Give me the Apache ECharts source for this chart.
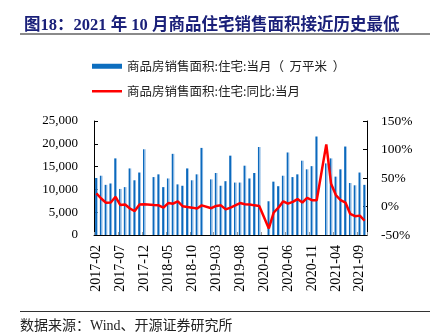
<!DOCTYPE html>
<html>
<head>
<meta charset="utf-8">
<script src="https://cdn.jsdelivr.net/npm/echarts@6/dist/echarts.min.js"></script>
<style>
html,body{margin:0;padding:0;background:#fff;}
#c{width:436px;height:336px;}
</style>
</head>
<body>
<div id="c"></div>
<script>
const categories = [
 '2017-02','2017-03','2017-04','2017-05','2017-06','2017-07','2017-08','2017-09','2017-10','2017-11','2017-12',
 '2018-01','2018-02','2018-03','2018-04','2018-05','2018-06','2018-07','2018-08','2018-09','2018-10','2018-11','2018-12',
 '2019-01','2019-02','2019-03','2019-04','2019-05','2019-06','2019-07','2019-08','2019-09','2019-10','2019-11','2019-12',
 '2020-01','2020-02','2020-03','2020-04','2020-05','2020-06','2020-07','2020-08','2020-09','2020-10','2020-11','2020-12',
 '2021-01','2021-02','2021-03','2021-04','2021-05','2021-06','2021-07','2021-08','2021-09','2021-10'
];
const salesArea = [
 12500,13000,11000,11300,16800,10100,10500,14600,12000,13700,18800,
 null,12700,13300,10500,12400,17800,11100,10800,14600,12000,13300,19100,
 null,12200,13600,10800,11800,17400,11500,11500,15200,12400,13600,19300,
 null,7400,11700,10700,13000,18100,12700,13300,16300,14400,15100,21600,
 null,15700,16800,12800,14400,19400,11400,10900,13700,11000
];
const salesYoY = [
 23,14,6.5,7,17,2.5,3.5,-3.5,-8,3.5,4,
 null,2.5,2,-2,6,5,9,0.6,-1,-2,-3.5,2,
 null,-3,1,2,-5,-2,2,6,4,3.5,2,1,
 null,-38.5,-11,-2,9,5,8,13,7,15,11,11,
 null,109,40,20,11,7,-13,-17,-16,-25
];
const leftTicks = {min:0, max:25000, interval:5000};
const rightTicks = {min:-50, max:150, interval:50};
const seriesNames = ['商品房销售面积:住宅:当月（  万平米  ）','商品房销售面积:住宅:同比:当月'];

const serif = "'Liberation Serif','Times New Roman','Noto Sans CJK SC',serif";
const legendText = {fontSize:12.5, color:'#222', fontFamily:"'Noto Sans CJK SC',sans-serif"};
const chart = echarts.init(document.getElementById('c'), null, {renderer:'canvas'});
chart.setOption({
  animation:false,
  backgroundColor:'#fff',
  title:{
    text:'图18：2021 年 10 月商品住宅销售面积接近历史最低',
    left:19, top:12,
    textStyle:{fontSize:16.5, fontWeight:'bold', color:'#1a2079', fontFamily:serif}
  },
  graphic:[
    {type:'line', shape:{x1:20,y1:34,x2:430,y2:34}, style:{stroke:'#8a8a8a', lineWidth:2}},
    {type:'line', shape:{x1:20,y1:311.5,x2:430,y2:311.5}, style:{stroke:'#333', lineWidth:1.2}},
    {type:'text', left:20, top:319, style:{text:'数据来源：Wind、开源证券研究所', fill:'#222', font:"14px "+serif}}
  ],
  legend:[
    {orient:'vertical', left:92, top:60, padding:0,
     itemWidth:30, itemHeight:5, textStyle:legendText,
     data:[{name:seriesNames[0], icon:'rect', itemStyle:{color:'#0d6ebf'}}]},
    {orient:'vertical', left:92, top:85, padding:0,
     itemWidth:30, itemHeight:2.5, textStyle:legendText,
     data:[{name:seriesNames[1], icon:'rect', itemStyle:{color:'#ff0000'}}]}
  ],
  grid:{left:94, right:69, top:121, bottom:101},
  xAxis:{
    type:'category', data:categories, boundaryGap:true,
    axisLine:{lineStyle:{color:'#000', width:1}},
    axisTick:{show:true, inside:true, interval:4, length:3, lineStyle:{color:'#999'}},
    axisLabel:{interval:4, rotate:90, margin:10, fontSize:14, color:'#000', fontFamily:serif}
  },
  yAxis:[
    {type:'value', min:leftTicks.min, max:leftTicks.max, interval:leftTicks.interval,
     splitLine:{show:false},
     axisLine:{show:true, lineStyle:{color:'#000'}},
     axisTick:{show:true, inside:true, length:4, lineStyle:{color:'#000'}},
     axisLabel:{margin:16, fontSize:13, color:'#000', fontFamily:serif,
       formatter:v=>v.toLocaleString('en-US')}},
    {type:'value', min:rightTicks.min, max:rightTicks.max, interval:rightTicks.interval,
     splitLine:{show:false},
     axisLine:{show:true, lineStyle:{color:'#000'}},
     axisTick:{show:true, inside:true, length:4, lineStyle:{color:'#000'}},
     axisLabel:{margin:14, fontSize:13.5, color:'#000', fontFamily:serif, formatter:'{value}%'}}
  ],
  series:[
    {name:seriesNames[0], type:'bar', yAxisIndex:0, data:salesArea, barWidth:2.6,
     itemStyle:{color:new echarts.graphic.LinearGradient(0,0,1,0,[
       {offset:0,color:'#0b69bd'},{offset:0.55,color:'#0b69bd'},{offset:0.56,color:'#86b5e2'},{offset:1,color:'#86b5e2'}])}},
    {name:seriesNames[1], type:'line', yAxisIndex:1, data:salesYoY, connectNulls:true,
     symbol:'none', lineStyle:{color:'#ff0000', width:2.5}, itemStyle:{color:'#ff0000'}, z:5}
  ]
});
</script>
</body>
</html>
